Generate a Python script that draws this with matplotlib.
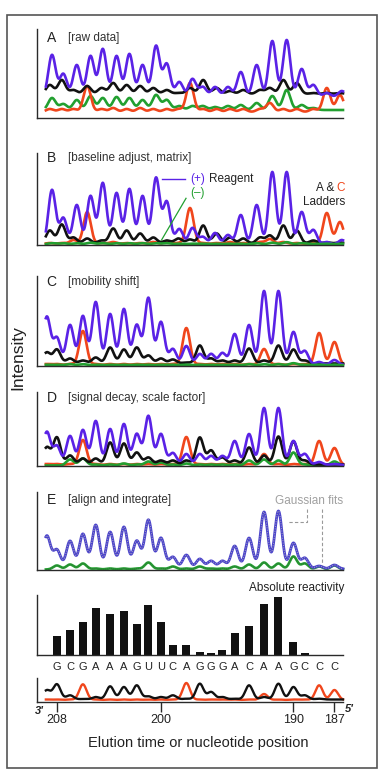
import numpy as np
import matplotlib
matplotlib.use("Agg")
import matplotlib.pyplot as plt
from matplotlib.patches import Rectangle

# nucleotide positions and their (aligned) elution times, arbitrary units 0-100
nt_pos = list(range(209, 186, -1))
nt_elution = [3.2, 6.5, 10.8, 15.0, 19.2, 23.9, 28.4, 32.6, 36.4, 40.5, 44.4, 48.8,
              53.2, 56.9, 60.6, 64.6, 69.3, 74.2, 78.9, 83.8, 87.5, 92.2, 97.2]
# peak times before mobility shift (reagent channels and ladder channels)
raw_elution = [4.9, 8.6, 13.0, 17.5, 21.5, 26.0, 30.2, 34.5, 38.9, 42.4, 46.5, 50.8,
               54.2, 58.2, 62.4, 66.6, 71.8, 76.9, 81.6, 86.5, 90.3, 94.7, 99.6]
ladder_raw_elution = [4.2, 8.1, 11.9, 16.4, 21.1, 24.9, 29.3, 33.7, 38.0, 42.4, 46.2, 50.0,
                      54.3, 58.7, 63.1, 67.4, 72.9, 76.1, 80.5, 84.9, 90.3, 94.7, 99.0]

# A: raw data (base level, peak heights)
blue_A = [42, 23, 32, 41, 48, 41, 43, 32, 51, 33, 15, 18, 10, 10, 10, 25, 32, 56, 57, 28, 12, 4, 6]
black_A = [9, 14, 4, 8, 6, 11, 9, 8, 6, 4, 1, 6, 14, 6, 3, 4, 4, 6, 14, 11, 1, 1, 1]
red_A = [3, 3, 3, 26, 3, 4, 3, 4, 3, 3, 3, 29, 3, 3, 3, 3, 3, 9, 3, 3, 3, 24, 17]
green_A = [12, 6, 10, 14, 12, 13, 12, 10, 15, 10, 4, 4, 4, 3, 4, 5, 7, 14, 20, 5, 2, 0, 0]
base_A = {"blue": 21, "black": 24, "red": 6, "green": 8}

# B: baseline adjust, matrix
blue_B = [55, 27, 40, 49, 62, 52, 56, 49, 67, 43, 16, 17, 8, 12, 10, 30, 40, 73, 73, 33, 15, 3, 5]
black_B = [13, 19, 6, 5, 3, 15, 13, 10, 6, 3, 5, 4, 18, 10, 6, 5, 6, 8, 18, 13, 3, 1, 1]
red_B = [1, 1, 4, 32, 1, 2, 1, 1, 2, 2, 1, 36, 1, 1, 2, 1, 2, 5, 2, 1, 2, 31, 22]
green_B = [1, 1, 1, 1.5, 1, 1, 1, 1, 1, 1, 0.5, 0.5, 0.5, 0.5, 0.5, 0.5, 1, 1.5, 2, 1, 0.5, 0.5, 0.5]
base_B = {"blue": 0, "black": 1.5, "red": 1, "green": 0.8}

# C: mobility shift
blue_C = [48, 27, 40, 49, 63, 51, 56, 40, 67, 43, 16, 19, 11, 11, 12, 31, 40, 74, 74, 33, 14, 3, 5]
black_C = [11, 14, 5, 3, 6, 16, 14, 16, 8, 5, 4, 1, 18, 5, 3, 3, 15, 3, 18, 14, 3, 0, 0]
red_C = [1, 1, 1, 34, 1, 1, 1, 1, 1, 1, 1, 37, 1, 1, 1, 1, 1, 16, 1, 1, 1, 32, 23]
green_C = [0.5, 0.5, 1, 1, 0.5, 0.5, 0.5, 0.5, 0.5, 0.5, 0.5, 0.5, 0.5, 0.5, 0.5, 0.5, 1, 1, 1, 2, 0.5, 0.5, 0.5]
base_C = {"blue": 1, "black": 2.5, "red": 1, "green": 0.8}

# D: signal decay, scale factor
blue_D = [33, 19, 29, 35, 44, 36, 41, 31, 49, 31, 12, 11, 11, 9, 9, 24, 31, 57, 57, 24, 11, 3, 1]
black_D = [17, 27, 9, 6, 6, 22, 21, 12, 7, 4, 4, 4, 27, 14, 7, 4, 17, 9, 28, 23, 4, 0, 0]
red_D = [1, 1, 1, 25, 1, 1, 1, 1, 1, 1, 1, 28, 1, 1, 1, 1, 1, 11, 1, 1, 1, 24, 17]
green_D = [0, 0, 6, 7, 1, 1, 2, 1, 4, 3, 1, 2, 1, 1, 1, 1, 5, 6, 5, 13, 1, 1, 4]
base_D = {"blue": 1, "black": 1.5, "red": 1, "green": 0.5}

# E: align and integrate
blue_E = [33, 19, 28, 35, 44, 37, 42, 28, 49, 31, 12, 14, 10, 8, 8, 23, 31, 57, 58, 26, 11, 3, 4]
green_E = [0, 4, 5, 6, 1, 1, 1, 1, 7, 1, 3, 1, 3, 1, 1, 3, 5, 7, 6, 13, 6, 3, 4]

# bottom: sequencing ladders
black_L = [9.2, 15.2, 4.2, 0.5, 2.5, 13.2, 12.5, 14.2, 3.2, 2.5, 4.2, 0.8, 15.8, 7.5, 2.5, 0.8,
           14.2, 2.5, 15.8, 12.5, 4.2, 0.8, 0]
red_L = [0.5, 0.5, 0.5, 15.7, 0.5, 0.5, 0.5, 0.5, 0.5, 0.5, 0.5, 17, 0.5, 0.5, 0.5, 0.5,
         0.5, 6, 0.5, 0.5, 0.5, 14.7, 10]

# absolute reactivity, positions 208..189
reactivity = [19.3, 25, 32.7, 46.7, 41.3, 44.3, 31, 49.7, 32.7, 9.7, 9.7, 3.3, 1.7, 5.3,
              22.3, 29, 51.3, 57.7, 13.3, 2.3]
sequence = list("GCGAAAGUUCAGGGACAAGCCC")  # 208 -> 187
tick_nt = [208, 200, 190, 187]

BLUE = "#5a22e6"
RED = "#f0461c"
GREEN = "#22a030"
BLACK = "#111111"
SPINE = "#2a2a2a"

plt.rcParams["font.family"] = ["Liberation Sans", "DejaVu Sans"]

W, H = 380, 771
fig = plt.figure(figsize=(W / 100, H / 100), dpi=100)
t = np.linspace(2.9, 100, 1600)


def trace(times, heights, base, sigma=1.2):
    y = np.full_like(t, float(base))
    for c, h in zip(times, heights):
        y += h * np.exp(-0.5 * ((t - c) / sigma) ** 2)
    return y


def panel(top, bottom):
    ax = fig.add_axes([37 / W, 1 - bottom / H, 306 / W, (bottom - top) / H])
    ax.set_xlim(0, 100)
    ax.set_ylim(0, bottom - top)
    ax.spines[["top", "right"]].set_visible(False)
    for s in ("left", "bottom"):
        ax.spines[s].set_color(SPINE)
        ax.spines[s].set_linewidth(1.0)
    ax.set_xticks([])
    ax.set_yticks([])
    ax.patch.set_alpha(0)
    return ax


def ftext(x, y, s, **kw):
    kw.setdefault("va", "center")
    fig.text(x / W, 1 - y / H, s, **kw)


def draw(ax, specs, lw=1.9):
    for times, heights, base, color in specs:
        ax.plot(t, trace(times, heights, base), color=color, lw=lw, clip_on=False,
                solid_joinstyle="round")


# outer frame
fig.add_artist(Rectangle((7 / W, 1 - 768 / H), 370 / W, 753 / H, transform=fig.transFigure,
                         fill=False, ec="#555555", lw=1.2))

# A
axA = panel(29, 118)
draw(axA, [(raw_elution, green_A, base_A["green"], GREEN),
           (ladder_raw_elution, red_A, base_A["red"], RED),
           (ladder_raw_elution, black_A, base_A["black"], BLACK),
           (raw_elution, blue_A, base_A["blue"], BLUE)])

# B
axB = panel(153, 245)
draw(axB, [(ladder_raw_elution, red_B, base_B["red"], RED),
           (ladder_raw_elution, black_B, base_B["black"], BLACK),
           (raw_elution, blue_B, base_B["blue"], BLUE),
           (raw_elution, green_B, base_B["green"], GREEN)])
axB.plot([40.7, 48.4], [65.7, 65.7], color=BLUE, lw=1.0)
axB.plot([40.7, 48.7], [5, 46.7], color=GREEN, lw=0.9)

# C
axC = panel(276, 366)
draw(axC, [(nt_elution, red_C, base_C["red"], RED),
           (nt_elution, black_C, base_C["black"], BLACK),
           (nt_elution, blue_C, base_C["blue"], BLUE),
           (nt_elution, green_C, base_C["green"], GREEN)])

# D
axD = panel(392, 466)
draw(axD, [(nt_elution, red_D, base_D["red"], RED),
           (nt_elution, green_D, base_D["green"], GREEN),
           (nt_elution, black_D, base_D["black"], BLACK),
           (nt_elution, blue_D, base_D["blue"], BLUE)])

# E
axE = panel(492, 570)
yE = trace(nt_elution, blue_E, 1)
gE = trace(nt_elution, green_E, 0.5)
axE.plot(t, gE, color=GREEN, lw=1.9, clip_on=False)
axE.plot(t, gE, color="#3d5a3d", lw=0.6, ls=(0, (1, 1.5)), clip_on=False)
axE.plot(t, yE, color="#4a42cc", lw=2.0, clip_on=False)
axE.plot(t, yE, color="#a8a8bc", lw=0.7, ls=(0, (1, 1.5)), clip_on=False)
axE.plot([88.1, 88.1, 82.1], [61, 48.3, 48.3], color="#999999", lw=0.8, ls=(0, (3, 2)))
axE.plot([93.0, 93.0], [61, 5], color="#999999", lw=0.8, ls=(0, (3, 2)))

# reactivity bars
axR = panel(595, 655)
axR.bar(nt_elution[1:1 + len(reactivity)], reactivity, width=2.6, color=BLACK)
for x, letter in zip(nt_elution[1:], sequence):
    axR.text(x, -12, letter, ha="center", va="center", fontsize=8, color="#222222")

# ladders at bottom
axL = panel(678, 702)
draw(axL, [(nt_elution, red_L, 2, RED),
           (nt_elution, black_L, 2.5, BLACK)], lw=1.7)
axL.set_xticks([nt_elution[nt_pos.index(n)] for n in tick_nt])
axL.set_xticklabels([str(n) for n in tick_nt])
axL.tick_params(axis="x", direction="out", length=7, width=1.0, color=SPINE,
                labelsize=9, pad=1.5, labelcolor="#222222")

# labels
for letter, sub, y in [("A", "[raw data]", 38), ("B", "[baseline adjust, matrix]", 158),
                       ("C", "[mobility shift]", 282.5), ("D", "[signal decay, scale factor]", 398),
                       ("E", "[align and integrate]", 500)]:
    ftext(46.5, y, letter, fontsize=10, color="#222222")
    ftext(68, y, sub, fontsize=8.5, color="#333333")

ftext(190, 179.3, "(+)", fontsize=8.5, color=BLUE)
ftext(208.5, 179.3, "Reagent", fontsize=8.5, color="#222222")
ftext(190, 192.7, "(\u2013)", fontsize=8.5, color=GREEN)
ftext(345, 188.3, "C", fontsize=8.5, color=RED, ha="right")
ftext(334, 188.3, "A &", fontsize=8.5, color="#222222", ha="right")
ftext(345, 201.7, "Ladders", fontsize=8.5, color="#222222", ha="right")

ftext(343, 501, "Gaussian fits", fontsize=8.5, color="#a0a0a0", ha="right")
ftext(344, 588, "Absolute reactivity", fontsize=8.5, color="#222222", ha="right")

ftext(18, 358, "Intensity", fontsize=12.5, rotation=90, ha="center", color="#222222")
ftext(198, 743, "Elution time or nucleotide position", fontsize=10.5, ha="center",
      color="#222222")
ftext(35, 711, "3'", fontsize=8, style="italic", weight="bold", color="#222222")
ftext(344.5, 709, "5'", fontsize=8, style="italic", weight="bold", color="#222222")

fig.savefig("out.png", dpi=100, facecolor="white")
